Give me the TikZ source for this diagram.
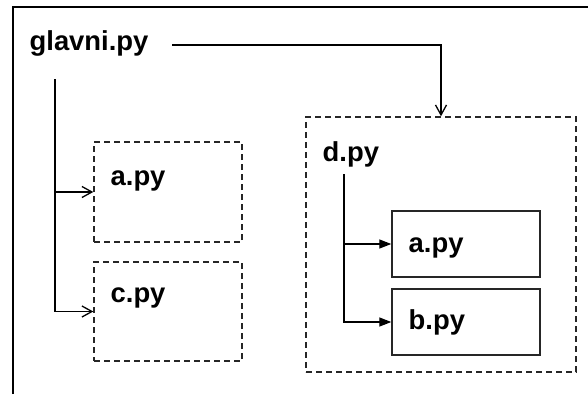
\documentclass[tikz,border=0pt]{standalone}
\usepackage{fontspec}
\setmainfont{Liberation Sans}
\usetikzlibrary{arrows.meta}

\begin{document}
\begin{tikzpicture}[x=1pt,y=-1pt,line width=1.3pt]
    \tikzstyle{modbox}=[draw=black!85,line width=1.4pt,inner sep=0pt]
    \tikzstyle{pkgbox}=[modbox,dash pattern=on 6pt off 4pt]
    \tikzstyle{fname}=[inner sep=0pt,anchor=base west,font=\fontsize{27.4}{31}\selectfont\bfseries]
    \tikzstyle{barb}=[-{Straight Barb[length=10pt,width=11pt]}]
    \tikzstyle{tri}=[-{Triangle[length=12pt,width=9pt]}]
    \useasboundingbox (0,0) rectangle (588,394);
    % frame, cut at the right and bottom
    \draw[line width=2pt] (13,394) -- (13,7) -- (588,7);
    % main script
    \node[fname] (glavni) at (29,50) {glavni.py};
    \coordinate (gout) at (172,45);
    \coordinate (gtrunk) at (55,79);
    % modules imported directly
    \node[pkgbox,minimum width=148,minimum height=100] (amod) at (168,192) {};
    \node[pkgbox,minimum width=148,minimum height=99] (cmod) at (168,311.5) {};
    \node[fname] (a_txt) at (110,185) {a.py};
    \node[fname] (c_txt) at (110,302) {c.py};
    % package d
    \node[pkgbox,minimum width=270,minimum height=255] (dpkg) at (441,244.5) {};
    \node[fname] (d_txt) at (322,161) {d.py};
    \coordinate (dtrunk) at (344,174);
    \node[modbox,minimum width=148,minimum height=66] (damod) at (466,244) {};
    \node[modbox,minimum width=148,minimum height=66] (dbmod) at (466,322) {};
    \node[fname] (da_txt) at (408,252) {a.py};
    \node[fname] (db_txt) at (408,329) {b.py};
    % imports
    \draw[barb] (gout) -| (dpkg.north);
    \draw[barb] (gtrunk) |- (amod.west);
    \draw[barb] (gtrunk) |- (cmod.west);
    \draw[tri] (dtrunk) |- (damod.west);
    \draw[tri] (dtrunk) |- (dbmod.west);
\end{tikzpicture}
\end{document}
